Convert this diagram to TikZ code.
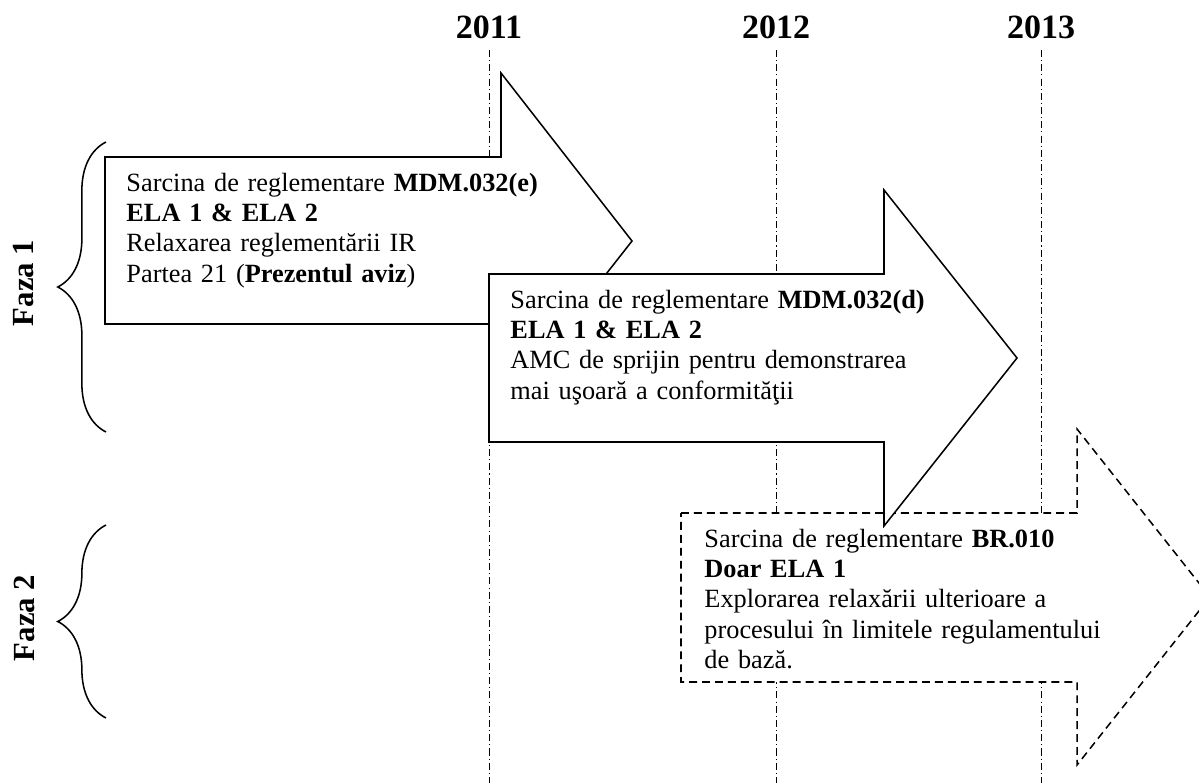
\documentclass[tikz,border=0pt]{standalone}
\usepackage{fontspec}
\setmainfont{Liberation Serif}
\usepackage{tikz}
\usetikzlibrary{decorations.pathreplacing}

\begin{document}
\begin{tikzpicture}[x=0.456pt,y=-0.456pt,
  yearline/.style={line width=0.45pt,dash pattern=on 3.2pt off 1.4pt on 0.5pt off 1.4pt},
  taskarrow/.style={draw=black,fill=white,line width=0.7pt,line join=miter},
  planarrow/.style={taskarrow,dash pattern=on 3.6pt off 2.3pt},
  tasktext/.style={anchor=base west,inner sep=0pt,align=left,text width=230pt,font=\fontsize{12}{13.9}\selectfont},
  year/.style={font=\fontsize{15.5}{17}\selectfont\bfseries},
  phase/.style={font=\fontsize{14}{16}\selectfont\bfseries,rotate=90},
  phasebrace/.style={decorate,decoration={brace,amplitude=22pt},line width=0.7pt}]
\useasboundingbox (0,0) rectangle (1199,783);
\clip (0,0) rectangle (1199,783);
% time axis
\foreach \x/\yr in {489/2011,776/2012,1041/2013}{
  \node[year] (y\yr) at (\x,27) {\yr};
  \draw[yearline] (\x,50) -- (\x,783);
}
% phases
\draw[phasebrace] (106,432) -- (106,142);
\node[phase] (faza1) at (24,283) {Faza 1};
\draw[phasebrace] (106,718) -- (106,525);
\node[phase] (faza2) at (24,618) {Faza 2};
% tasks
\draw[planarrow] (681,513) -- (1077,513) -- (1077,429) -- (1210,597) -- (1077,765) -- (1077,682) -- (681,682) -- cycle;
\draw[taskarrow] (105,157) -- (501,157) -- (501,73) -- (632,241) -- (501,408) -- (501,324) -- (105,324) -- cycle;
\draw[taskarrow] (489,274) -- (884,274) -- (884,190) -- (1017,358) -- (884,526) -- (884,442) -- (489,442) -- cycle;
\node[tasktext] (task1) at (126,191) {Sarcina de reglementare \textbf{MDM.032(e)}\\
  \textbf{ELA 1 \& ELA 2}\\
  Relaxarea reglementării IR\\
  Partea 21 (\textbf{Prezentul aviz})};
\node[tasktext] (task2) at (510,308) {Sarcina de reglementare \textbf{MDM.032(d)}\\
  \textbf{ELA 1 \& ELA 2}\\
  AMC de sprijin pentru demonstrarea\\
  mai uşoară a conformităţii};
\node[tasktext] (task3) at (704,547) {Sarcina de reglementare \textbf{BR.010}\\
  \textbf{Doar ELA 1}\\
  Explorarea relaxării ulterioare a\\
  procesului în limitele regulamentului\\
  de bază.};
\end{tikzpicture}
\end{document}
